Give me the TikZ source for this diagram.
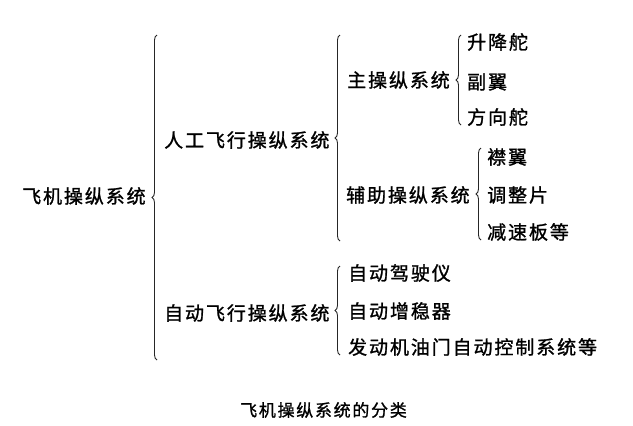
\documentclass[tikz,border=0pt]{standalone}
\usepackage{fontspec}
\setmainfont{Noto Sans CJK SC}[LetterSpace=10, FakeBold=1.2]
\usetikzlibrary{decorations.pathreplacing}
\tikzset{
  lbl/.style={anchor=west, inner sep=0pt, font=\fontsize{19}{19}\selectfont},
  captext/.style={inner sep=0pt, font=\fontsize{17}{17}\selectfont},
  br/.style={decorate, decoration={brace, amplitude=5pt, aspect=0.5}, line width=0.9pt, draw=black!85}
}
\begin{document}
\begin{tikzpicture}[x=1pt, y=-1pt]
\useasboundingbox (0,0) rectangle (633,426);
% texts
\node[lbl] (root) at (22,196) {飞机操纵系统};
\node[lbl] (man) at (164,140) {人工飞行操纵系统};
\node[lbl] (auto) at (164,313) {自动飞行操纵系统};
\node[lbl] (main) at (347,80) {主操纵系统};
\node[lbl] (aux) at (346,195) {辅助操纵系统};
\node[lbl] (m1) at (467,42) {升降舵};
\node[lbl] (m2) at (467,82) {副翼};
\node[lbl] (m3) at (467,117) {方向舵};
\node[lbl] (a1) at (487,157) {襟翼};
\node[lbl] (a2) at (487,195) {调整片};
\node[lbl] (a3) at (487,232) {减速板等};
\node[lbl] (p1) at (348,273) {自动驾驶仪};
\node[lbl] (p2) at (348,311) {自动增稳器};
\node[lbl] (p3) at (348,347) {发动机油门自动控制系统等};
\node[captext, anchor=west] (caption) at (240,410) {飞机操纵系统的分类};
% brace ends
\coordinate (r0) at (157,360); \coordinate (r1) at (157,35);
\coordinate (h0) at (340,241); \coordinate (h1) at (340,35);
\coordinate (z0) at (340,355); \coordinate (z1) at (340,266);
\coordinate (s0) at (461,125); \coordinate (s1) at (461,35);
\coordinate (f0) at (481,240); \coordinate (f1) at (481,148);
\draw[br] (r0) -- (r1);
\draw[br] (h0) -- (h1);
\draw[br] (z0) -- (z1);
\draw[br] (s0) -- (s1);
\draw[br] (f0) -- (f1);
\end{tikzpicture}
\end{document}
